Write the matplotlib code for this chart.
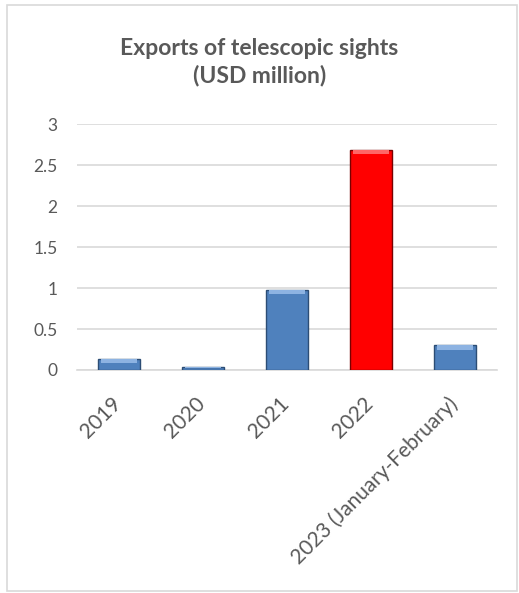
import matplotlib
matplotlib.use("Agg")
import matplotlib.pyplot as plt
from matplotlib.patches import Rectangle
from matplotlib.transforms import ScaledTranslation

categories = ["2019", "2020", "2021", "2022", "2023 (January-February)"]
values = [0.14, 0.04, 0.98, 2.68, 0.30]
highlight = "2022"
yticks = [0, 0.5, 1, 1.5, 2, 2.5, 3]
ytick_labels = ["0", "0.5", "1", "1.5", "2", "2.5", "3"]
title = "Exports of telescopic sights\n(USD million)"

plt.rcParams['font.family'] = ['Lato', 'DejaVu Sans']
W, H = 519, 593
fig = plt.figure(figsize=(W/100, H/100), dpi=100)
fig.patch.set_facecolor("white")

# outer border
fig.add_artist(Rectangle((7/W, 1 - 591/H), (517-7)/W, (591-5)/H, transform=fig.transFigure,
                         fill=False, edgecolor="#d9d9d9", linewidth=1.2))

ax = fig.add_axes([77/W, 1 - 370/H, (497-77)/W, (370-124)/H])
x = list(range(len(categories)))
colors = ["#FF0000" if c == highlight else "#4F81BD" for c in categories]
edges = ["#7a0000" if c == highlight else "#2c4d75" for c in categories]
ax.bar(x, values, width=0.5, color=colors, edgecolor=edges, linewidth=1.0, zorder=3)
# lighter top bevel
tops = ["#ff6666" if c == highlight else "#8db3e2" for c in categories]
for xi, v, tc in zip(x, values, tops):
    h = min(0.05, v * 0.4)
    ax.bar(xi, h, bottom=v - h, width=0.42, color=tc, linewidth=0, zorder=4)

ax.set_xlim(-0.5, len(categories) - 0.5)
ax.set_ylim(0, 3)
ax.set_yticks(yticks)
ax.set_yticklabels(ytick_labels)
ax.yaxis.grid(True, color="#d9d9d9", linewidth=1.2, zorder=0)
ax.set_axisbelow(True)
for s in ["top", "right", "left"]:
    ax.spines[s].set_visible(False)
ax.spines["bottom"].set_color("#d9d9d9")
ax.spines["bottom"].set_linewidth(1.2)
ax.tick_params(axis="y", length=0, labelsize=12.5, colors="#595959", pad=14)
ax.set_xticks(x)
ax.set_xticklabels(categories, rotation=45, ha="right", va="top", rotation_mode="anchor")
ax.tick_params(axis="x", length=0, labelsize=15, colors="#595959", pad=17)
off = ScaledTranslation(-8/100, 0, fig.dpi_scale_trans)
for lbl in ax.get_xticklabels():
    lbl.set_transform(lbl.get_transform() + off)

fig.text(0.5, 1 - 62/H, title, ha="center", va="center", fontsize=16.5, fontweight="bold",
         color="#595959", linespacing=1.35)

fig.savefig("out.png", dpi=100, facecolor="white")
